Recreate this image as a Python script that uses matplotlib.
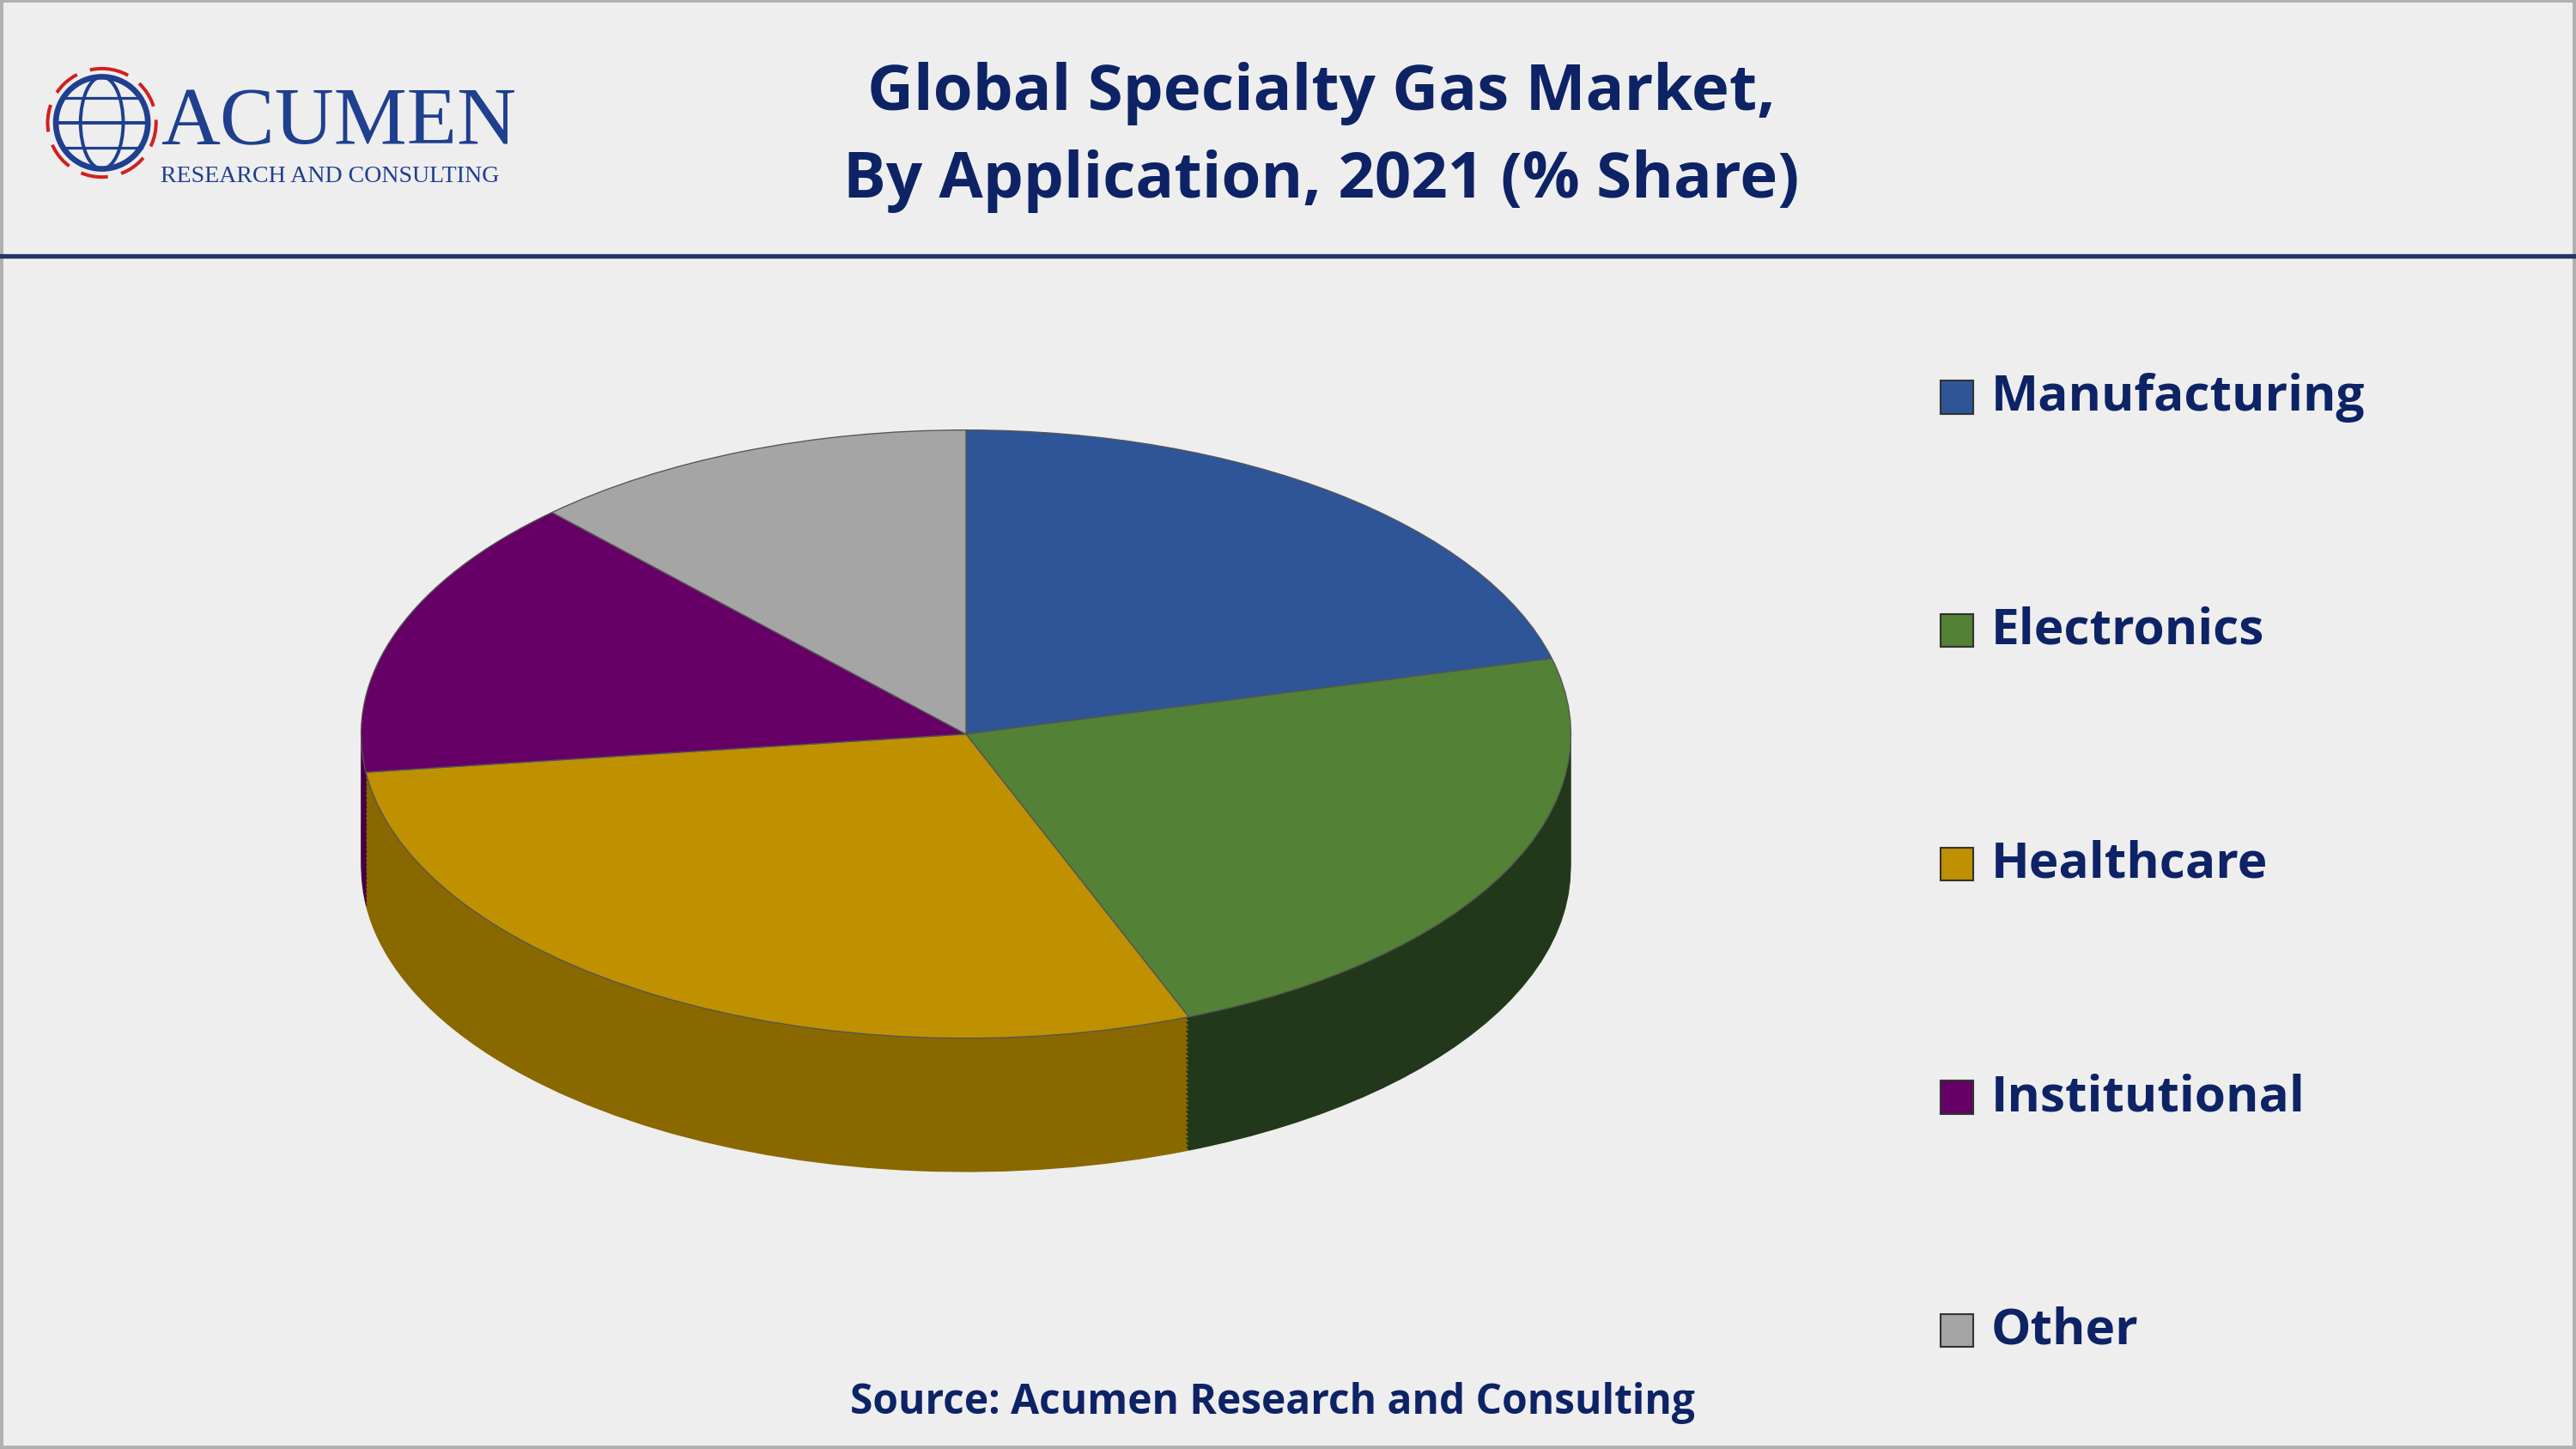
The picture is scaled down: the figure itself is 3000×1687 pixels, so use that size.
import matplotlib
matplotlib.use("Agg")
import matplotlib.pyplot as plt
from matplotlib.patches import Rectangle, Circle, Ellipse

categories = ["Manufacturing", "Electronics", "Healthcare", "Institutional", "Other"]
shares = [21, 23, 29, 15, 12]
colors = ["#2E5597", "#538135", "#BF9000", "#660066", "#A5A5A5"]
side_colors = ["#1E3A66", "#22381A", "#8A6800", "#440044", "#707070"]
title = "Global Specialty Gas Market,\nBy Application, 2021 (% Share)"
source = "Source: Acumen Research and Consulting"
navy = "#0D2366"
font = ["Open Sans", "DejaVu Sans"]

fig = plt.figure(figsize=(15.68, 8.82), dpi=3000/15.68, facecolor="#EEEEEE")
bg = fig.add_axes([0, 0, 1, 1]); bg.set_xlim(0, 1568); bg.set_ylim(882, 0); bg.axis("off")
bg.add_patch(Rectangle((1, 1), 1566, 880, fill=False, ec="#B0B0B0", lw=1.5))
bg.plot([0, 1568], [156, 156], color="#1F3864", lw=2)

# logo
bg.add_patch(Circle((62, 75), 28, fill=False, ec="#1F3F8F", lw=2.5))
bg.add_patch(Ellipse((62, 75), 26, 56, fill=False, ec="#1F3F8F", lw=1.5))
bg.plot([34, 90], [75, 75], color="#1F3F8F", lw=1.5)
bg.plot([38, 86], [60, 60], color="#1F3F8F", lw=1.2)
bg.plot([38, 86], [90, 90], color="#1F3F8F", lw=1.2)
bg.add_patch(Circle((62, 75), 33, fill=False, ec="#D02020", lw=1.5, ls=(0, (8, 4))))
bg.text(98, 88, "ACUMEN", fontsize=36, family=["Liberation Serif"], color="#1F3F8F", va="baseline")
bg.text(98, 111, "RESEARCH AND CONSULTING", fontsize=10.5, family=["Liberation Serif"], color="#1F3F8F", va="baseline")

fig.text(0.513, 0.905, title, ha="center", va="center", fontsize=28, fontweight="bold",
         color=navy, family=font, linespacing=1.5)
fig.text(0.494, 0.032, source, ha="center", va="center", fontsize=18, fontweight="bold",
         color=navy, family=font)

# pie
ax = fig.add_axes([0.1167, 0.168, 0.5166, 0.556])
depth = 0.44
steps = 30
for k in range(steps, 0, -1):
    ax.pie(shares, colors=side_colors, startangle=90, counterclock=False,
           center=(0, -depth * k / steps), radius=1, wedgeprops=dict(lw=0))
ax.pie(shares, colors=colors, startangle=90, counterclock=False, radius=1,
       wedgeprops=dict(lw=0.5, ec="#555555"))
ax.set_aspect("auto")
ax.set_xlim(-1.1, 1.1); ax.set_ylim(-1.55, 1.1)
ax.axis("off")

# legend
ys = [242, 384, 526, 668, 810]
for c, name, y in zip(colors, categories, ys):
    bg.add_patch(Rectangle((1181, y - 10), 20, 20, fc=c, ec="#333333", lw=0.8))
    bg.text(1212, y, name, fontsize=22, fontweight="bold", color=navy, family=font, va="center")

fig.savefig("out.png", facecolor=fig.get_facecolor())
